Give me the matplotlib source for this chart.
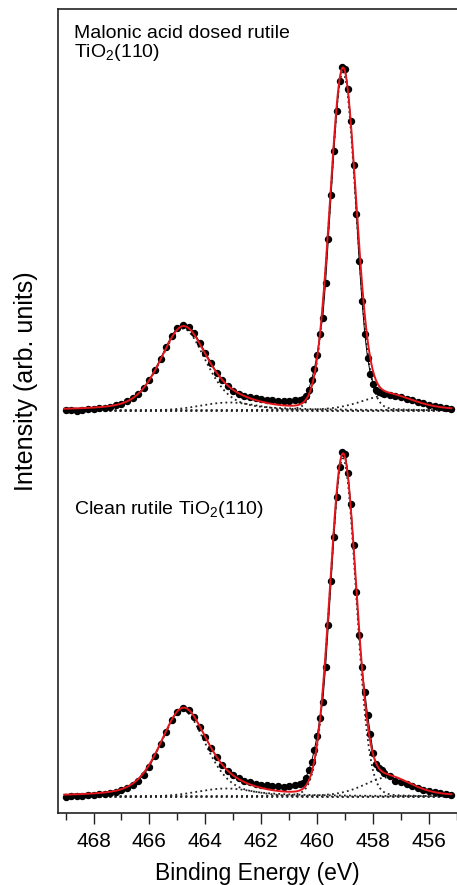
import numpy as np
import matplotlib.pyplot as plt

plt.rcParams['font.family'] = ['Liberation Sans', 'DejaVu Sans']
plt.rcParams['mathtext.default'] = 'regular'

# binding energy grid of the Ti 2p scans (finer step across the 2p3/2 peak)
energy = np.concatenate([np.arange(469.0, 460.55, -0.2),
                         np.arange(460.5, 457.65, -0.1),
                         np.arange(457.6, 455.15, -0.2)])

# measured intensity above background, malonic acid dosed surface
dosed_counts = np.array([
    1, 1, 0, 1, 2, 2, 3, 3, 4, 6,
    7, 10, 13, 17, 23, 31, 41, 52, 64, 75,
    83, 86, 84, 78, 68, 58, 48, 38, 31, 25,
    20, 17, 15, 14, 13, 12, 11, 11, 10, 10,
    10, 11, 11,
    12, 15, 21, 31, 42, 56, 77, 93, 128, 172,
    216, 260, 300, 330, 344, 342, 322, 290, 246, 197,
    150, 110, 77, 53, 37, 27, 21, 19, 18,
    17, 16, 15, 14, 12, 11, 9, 8, 6, 5, 4, 3, 2])

# measured intensity above background, clean surface
clean_counts = np.array([
    0, 1, 1, 1, 2, 2, 3, 3, 4, 5,
    7, 9, 12, 16, 22, 30, 41, 53, 65, 77,
    85, 89, 87, 80, 70, 60, 49, 40, 32, 26,
    22, 19, 16, 15, 13, 12, 12, 11, 11, 10,
    11, 12, 13,
    14, 19, 27, 35, 47, 61, 79, 95, 130, 172,
    216, 260, 300, 330, 345, 343, 324, 293, 252, 205,
    162, 130, 105, 82, 63, 44, 33, 29, 27,
    24, 21, 16, 15, 13, 11, 9, 7, 6, 5, 4, 3, 2])

# fit components: Ti4+ 2p3/2, Ti3+ 2p3/2, Ti4+ 2p1/2, Ti3+ 2p1/2
dosed_centre = [459.08, 457.50, 464.80, 463.15]
dosed_fwhm = [1.10, 2.20, 1.95, 2.40]
dosed_height = [338, 15, 82, 8]
dosed_eta = [0.05, 0.40, 0.40, 0.0]

clean_centre = [459.08, 457.50, 464.80, 463.25]
clean_fwhm = [1.10, 2.00, 1.95, 2.40]
clean_height = [338, 19, 86, 8]
clean_eta = [0.05, 0.40, 0.40, 0.0]

# vertical offsets of the two stacked spectra
clean_offset = 16.5
dosed_offset = 402.5


def pseudo_voigt(e, centre, fwhm, height, eta):
    x = (e - centre) / fwhm
    g = np.exp(-4 * np.log(2) * x ** 2)
    l = 1 / (1 + 4 * x ** 2)
    return height * ((1 - eta) * g + eta * l)


fig = plt.figure(figsize=(4.57, 8.85), dpi=100)
ax = fig.add_axes([58 / 457, 72 / 885, 399 / 457, 804 / 885])

e_fine = np.linspace(469.05, 455.2, 800)
dots = (0, (1.0, 1.8))

for counts, centre, fwhm, height, eta, off in [
        (dosed_counts, dosed_centre, dosed_fwhm, dosed_height, dosed_eta, dosed_offset),
        (clean_counts, clean_centre, clean_fwhm, clean_height, clean_eta, clean_offset)]:
    # background
    ax.plot([469.05, 455.2], [off, off], color='#222222', lw=1.3, ls=dots, zorder=1)
    total = np.zeros_like(e_fine)
    for c, w, h, n in zip(centre, fwhm, height, eta):
        comp = pseudo_voigt(e_fine, c, w, h, n)
        total += comp
        ax.plot(e_fine, off + comp, color='#222222', lw=1.3, ls=dots, zorder=1)
    ax.plot(energy, off + counts, color='black', lw=0.7, marker='o', ms=4.3,
            mec='black', mfc='black', zorder=2)
    ax.plot(e_fine, off + total, color='#e3161b', lw=1.4, zorder=3)

ax.set_xlim(469.27, 455.23)
ax.set_ylim(0, 804)
ax.set_xticks(np.arange(468, 455, -2))
ax.set_xticks(np.arange(469, 454, -2), minor=True)
ax.set_yticks([])
ax.tick_params(axis='x', which='major', direction='out', length=8, width=1,
               labelsize=15, pad=5.5, color='#222222')
ax.tick_params(axis='x', which='minor', direction='out', length=5, width=1,
               color='#222222')
ax.spines['right'].set_visible(False)
for side in ['left', 'top', 'bottom']:
    ax.spines[side].set_linewidth(1.2)
    ax.spines[side].set_color('#222222')

ax.set_xlabel('Binding Energy (eV)', fontsize=16.5, labelpad=8)
fig.text(26 / 457, 1 - 381 / 885, 'Intensity (arb. units)', rotation=90,
         ha='center', va='center', fontsize=18)

fig.text(74 / 457, 1 - 38 / 885, 'Malonic acid dosed rutile', fontsize=14, va='baseline')
fig.text(74 / 457, 1 - 57 / 885, 'TiO$_2$(110)', fontsize=14, va='baseline')
fig.text(74 / 457, 1 - 514 / 885, 'Clean rutile TiO$_2$(110)', fontsize=14, va='baseline')

fig.savefig('out.png', dpi=100)
